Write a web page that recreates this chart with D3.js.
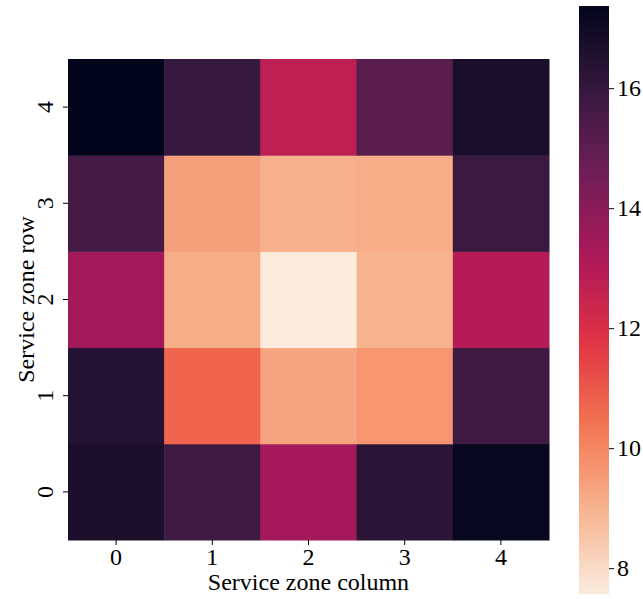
<!DOCTYPE html>
<html><head><meta charset="utf-8">
<script src="https://cdn.jsdelivr.net/npm/d3@7"></script>
<style>body{margin:0;background:#fff}svg{display:block}</style>
</head><body><svg id="c" width="643" height="599"></svg>
<script>
const columns = [0,1,2,3,4];
const rows = [0,1,2,3,4];
// values[row][col], row 0 at bottom
const row0 = [16.70, 15.76, 13.35, 16.28, 17.26];
const row1 = [16.47, 10.72, 9.33, 9.65, 15.76];
const row2 = [13.45, 9.10, 7.57, 9.00, 12.95];
const row3 = [15.59, 9.42, 9.06, 9.13, 15.86];
const row4 = [17.37, 15.97, 12.75, 15.09, 16.72];
const values = [row0,row1,row2,row3,row4];
const cbarTicks = [8,10,12,14,16];
const rocketStops = ["#03051a","#35193e","#701f57","#ad1759","#e13342","#f37651","#f6b48f","#faebdd"];

const FONT = "Liberation Serif";
const svg = d3.select("#c");
const x0=68, y0=59, W=481, H=481;
const x = d3.scaleBand().domain(columns).range([x0,x0+W]).padding(0);
const y = d3.scaleBand().domain(rows.slice().reverse()).range([y0,y0+H]).padding(0);
const flat = values.flat();
const vmin = d3.min(flat), vmax = d3.max(flat);
const rocket = d3.scaleLinear().domain(d3.range(rocketStops.length).map(i=>i/(rocketStops.length-1))).range(rocketStops).interpolate(d3.interpolateRgb);
const color = v => rocket(1 - (v - vmin)/(vmax - vmin));

const cells = [];
rows.forEach(r=>columns.forEach(c=>cells.push({r,c,v:values[r][c]})));
svg.append("g").selectAll("rect").data(cells).join("rect")
  .attr("x",d=>x(d.c)).attr("y",d=>y(d.r))
  .attr("width",x.bandwidth()+0.5).attr("height",y.bandwidth()+0.5)
  .attr("fill",d=>color(d.v));

const fs = 24;
const xa = svg.append("g").attr("transform",`translate(0,${y0+H})`).call(d3.axisBottom(x).tickSize(5).tickPadding(3))
  .attr("font-family",FONT).attr("font-size",fs);
xa.select(".domain").remove();
xa.selectAll("text").attr("fill","#000");
xa.selectAll("line").attr("stroke","#000");

const ya = svg.append("g").attr("transform",`translate(${x0},0)`).call(d3.axisLeft(y).tickSize(5).tickPadding(4))
  .attr("font-family",FONT).attr("font-size",fs);
ya.select(".domain").remove();
ya.selectAll("line").attr("stroke","#000");
ya.selectAll("text").attr("fill","#000")
  .attr("text-anchor","middle").attr("x",0).attr("dy",null)
  .attr("transform","translate(-21,0) rotate(-90)").attr("dominant-baseline","middle");

svg.append("text").attr("x",x0+W/2).attr("y",590).attr("text-anchor","middle").attr("font-family",FONT).attr("font-size",fs).text("Service zone column");
svg.append("text").attr("transform",`translate(28,${y0+H/2}) rotate(-90)`).attr("text-anchor","middle").attr("dominant-baseline","middle").attr("font-family",FONT).attr("font-size",fs).text("Service zone row");

// colorbar
const cbX=579, cbW=30, cbTop=6, cbBot=594;
const cy = d3.scaleLinear().domain([vmin,vmax]).range([cbBot,cbTop]);
const defs = svg.append("defs");
const grad = defs.append("linearGradient").attr("id","g").attr("x1",0).attr("y1",1).attr("x2",0).attr("y2",0);
d3.range(0,1.0001,0.05).forEach(t=>grad.append("stop").attr("offset",t).attr("stop-color",color(vmin+t*(vmax-vmin))));
svg.append("rect").attr("x",cbX).attr("y",cbTop).attr("width",cbW).attr("height",cbBot-cbTop).attr("fill","url(#g)");
const ca = svg.append("g").attr("transform",`translate(${cbX+cbW},0)`).call(d3.axisRight(cy).tickValues(cbarTicks).tickSize(5).tickPadding(3))
  .attr("font-family",FONT).attr("font-size",fs);
ca.select(".domain").remove();
ca.selectAll("line").attr("stroke","#000");
ca.selectAll("text").attr("fill","#000");
</script></body></html>
